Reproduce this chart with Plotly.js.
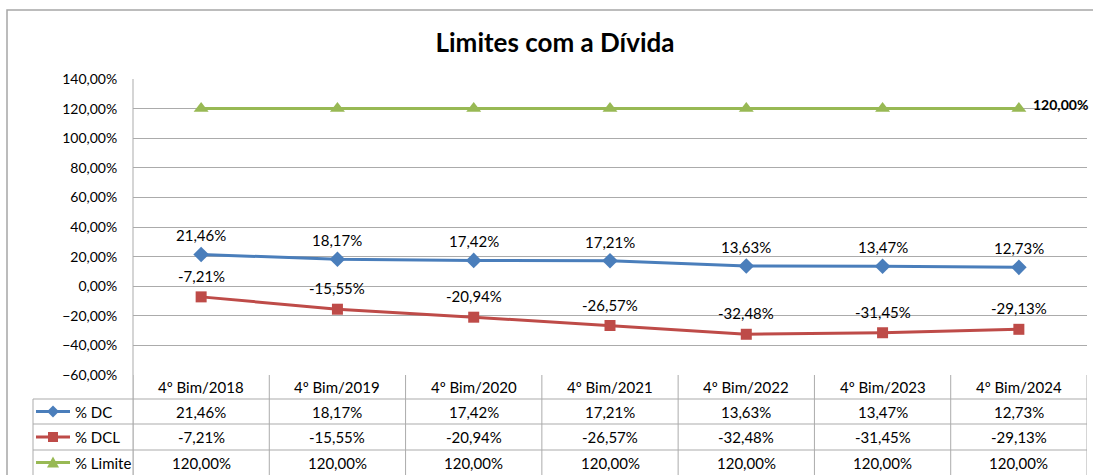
<!DOCTYPE html>
<html>
<head>
<meta charset="utf-8">
<script src="https://cdn.plot.ly/plotly-3.0.1.min.js"></script>
<style>html,body{margin:0;padding:0;background:#fff;}#chart{width:1093px;height:475px;}</style>
</head>
<body>
<div id="chart"></div>
<script>
const categories = ["4º Bim/2018","4º Bim/2019","4º Bim/2020","4º Bim/2021","4º Bim/2022","4º Bim/2023","4º Bim/2024"];
const dc = [21.46, 18.17, 17.42, 17.21, 13.63, 13.47, 12.73];
const dcl = [-7.21, -15.55, -20.94, -26.57, -32.48, -31.45, -29.13];
const limite = [120, 120, 120, 120, 120, 120, 120];
const seriesNames = ["% DC", "% DCL", "% Limite"];
const chartTitle = "Limites com a Dívida";

const W = 1093, H = 475, L = 133, R = 1087, T = 79, B = 375;
const px = p => (p - L) / (R - L);
const py = p => (B - p) / (B - T);
const fmt = v => v.toFixed(2).replace('.', ',') + '%';
const FONT = 'Lato, "Open Sans", sans-serif';
const GRID = '#ababab';
const colors = ['#4a7ebb', '#be4b48', '#98b954'];
const symbols = ['diamond', 'square', 'triangle-up'];

const series = [dc, dcl, limite];
const traces = series.map((s, k) => ({
  type: 'scatter', mode: 'lines+markers', x: categories, y: s, name: seriesNames[k],
  line: {color: colors[k], width: 3},
  marker: {symbol: symbols[k], size: k === 0 ? 12 : (k === 1 ? 11 : 13), color: colors[k]},
  hoverinfo: 'skip', cliponaxis: false
}));

const annotations = [];
const shapes = [];
// data labels
[[dc, 19], [dcl, 21]].forEach(([s, sh]) => {
  s.forEach((v, i) => annotations.push({x: categories[i], y: v, xref: 'x', yref: 'y', text: fmt(v),
    showarrow: false, yshift: sh, xanchor: 'center', yanchor: 'middle',
    font: {family: FONT, size: 15, color: '#000'}}));
});
annotations.push({x: categories[categories.length - 1], y: limite[limite.length - 1], xref: 'x', yref: 'y',
  text: '<b>' + fmt(limite[limite.length - 1]) + '</b>', showarrow: false, xanchor: 'left', yanchor: 'middle',
  xshift: 12, yshift: 4, font: {family: FONT, size: 14, color: '#000'}});

// table
const rowCenters = [387, 411.5, 437, 462.5];
categories.forEach((c, i) => {
  annotations.push({x: c, y: py(rowCenters[0]), xref: 'x', yref: 'paper', text: c, showarrow: false,
    xanchor: 'center', yanchor: 'middle', font: {family: FONT, size: 15, color: '#000'}});
  series.forEach((s, k) => annotations.push({x: c, y: py(rowCenters[k + 1]), xref: 'x', yref: 'paper',
    text: fmt(s[i]), showarrow: false, xanchor: 'center', yanchor: 'middle',
    font: {family: FONT, size: 15, color: '#000'}}));
});
for (let i = 0; i <= categories.length; i++) {
  shapes.push({type: 'line', xref: 'x', yref: 'paper', x0: i - 0.5, x1: i - 0.5, y0: py(375), y1: py(480),
    line: {color: GRID, width: 1}});
}
[399, 424, 450].forEach(yy => shapes.push({type: 'line', xref: 'paper', yref: 'paper', x0: px(33), x1: px(1087),
  y0: py(yy), y1: py(yy), line: {color: GRID, width: 1.2}}));
shapes.push({type: 'line', xref: 'paper', yref: 'paper', x0: px(33), x1: px(33), y0: py(399), y1: py(480),
  line: {color: GRID, width: 1}});
// legend keys in table (pixel paths: y axis points up)
const keyPaths = [
  'M0,6 L6,0 L0,-6 L-6,0 Z',
  'M-5,-5 L5,-5 L5,5 L-5,5 Z',
  'M0,6 L6,-5 L-6,-5 Z'
];
seriesNames.forEach((n, k) => {
  const yc = rowCenters[k + 1];
  shapes.push({type: 'line', xref: 'paper', yref: 'paper', x0: px(36), x1: px(70), y0: py(yc), y1: py(yc),
    line: {color: colors[k], width: 3}});
  shapes.push({type: 'path', xref: 'paper', yref: 'paper', xsizemode: 'pixel', ysizemode: 'pixel',
    xanchor: px(53), yanchor: py(yc), path: keyPaths[k], fillcolor: colors[k], line: {width: 0}});
  annotations.push({xref: 'paper', yref: 'paper', x: px(73), y: py(yc), xanchor: 'left', yanchor: 'middle', text: n,
    showarrow: false, font: {family: FONT, size: 15, color: '#000'}});
});
// outer border
shapes.push({type: 'rect', xref: 'paper', yref: 'paper', x0: px(7), x1: px(1110), y0: py(10), y1: py(490),
  line: {color: '#a6a6a6', width: 1.5}});
// left axis line extending through table
shapes.push({type: 'line', xref: 'paper', yref: 'paper', x0: 0, x1: 0, y0: py(480), y1: 1,
  line: {color: GRID, width: 1}});

const layout = {
  width: W, height: H,
  margin: {l: L, r: W - R, t: T, b: H - B, pad: 0},
  paper_bgcolor: '#fff', plot_bgcolor: '#fff',
  separators: ',.',
  showlegend: false,
  title: {text: '<b>' + chartTitle + '</b>', xref: 'container', yref: 'container', x: 555 / W, xanchor: 'center',
    y: 1 - 43 / H, yanchor: 'middle', font: {family: FONT, size: 26, color: '#000'}},
  xaxis: {type: 'category', categoryarray: categories, range: [-0.5, categories.length - 0.5],
    showticklabels: false, showgrid: false, zeroline: false, showline: false, ticks: '', fixedrange: true},
  yaxis: {range: [-60, 140], dtick: 20, tick0: 0, tickformat: '.2f', ticksuffix: '%',
    showgrid: true, gridcolor: GRID, gridwidth: 1, zeroline: false, showline: false,
    ticks: 'outside', ticklen: 12, tickcolor: 'rgba(0,0,0,0)',
    tickfont: {family: FONT, size: 14, color: '#000'}, fixedrange: true},
  shapes: shapes,
  annotations: annotations
};

Plotly.newPlot('chart', traces, layout, {displayModeBar: false, staticPlot: true});
</script>
</body>
</html>
